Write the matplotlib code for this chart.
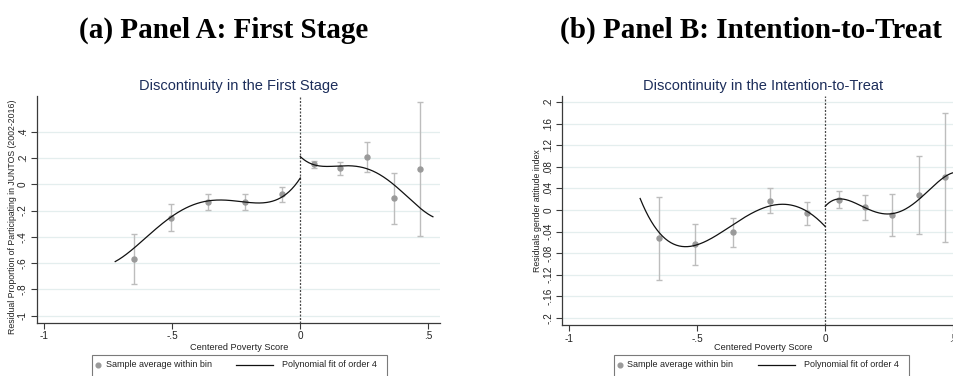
import numpy as np
import matplotlib
matplotlib.use("Agg")
import matplotlib.pyplot as plt
from matplotlib.lines import Line2D
from matplotlib.patches import Rectangle

# ---------------- data ----------------
bin_x = [-0.651, -0.507, -0.362, -0.216, -0.072, 0.052, 0.156, 0.260, 0.365, 0.467]

# Panel A: first stage (residual participation in JUNTOS)
fs_mean = [-0.570, -0.254, -0.137, -0.134, -0.076, 0.153, 0.126, 0.209, -0.107, 0.114]
fs_upper = [-0.381, -0.146, -0.076, -0.075, -0.018, 0.180, 0.172, 0.325, 0.088, 0.623]
fs_lower = [-0.759, -0.356, -0.198, -0.197, -0.137, 0.122, 0.071, 0.091, -0.303, -0.392]

fs_fit_left_x = [-0.723, -0.690, -0.651, -0.586, -0.508, -0.443, -0.400, -0.365, -0.300,
                 -0.221, -0.143, -0.091, -0.053, -0.020, 0.0]
fs_fit_left_y = [-0.584, -0.545, -0.500, -0.373, -0.247, -0.170, -0.146, -0.132, -0.125,
                 -0.132, -0.137, -0.119, -0.068, -0.005, 0.046]
fs_fit_right_x = [0.0, 0.026, 0.052, 0.104, 0.156, 0.208, 0.260, 0.3125, 0.365, 0.417, 0.469, 0.518]
fs_fit_right_y = [0.210, 0.172, 0.152, 0.139, 0.134, 0.139, 0.122, 0.071, 0.0, -0.094, -0.183, -0.246]

# Panel B: intention-to-treat (residual gender attitude index)
itt_mean = [-0.0527, -0.0632, -0.0415, 0.0173, -0.0064, 0.0182, 0.0049, -0.0087, 0.0282, 0.0606]
itt_upper = [0.0241, -0.0260, -0.0155, 0.0408, 0.0148, 0.0346, 0.0272, 0.0303, 0.1008, 0.1794]
itt_lower = [-0.1294, -0.1016, -0.0688, -0.0064, -0.0279, 0.0028, -0.0182, -0.0477, -0.0446, -0.0589]

itt_fit_left_x = [-0.723, -0.690, -0.651, -0.605, -0.547, -0.504, -0.436, -0.362, -0.280,
                  -0.215, -0.169, -0.117, -0.072, -0.032, 0.0]
itt_fit_left_y = [0.0204, -0.0119, -0.0397, -0.0595, -0.0688, -0.0644, -0.0520, -0.0292, -0.0025,
                  0.0093, 0.0110, 0.0068, -0.0044, -0.0167, -0.0292]
itt_fit_right_x = [0.0, 0.020, 0.052, 0.104, 0.156, 0.208, 0.260, 0.3125, 0.365, 0.417, 0.465, 0.518]
itt_fit_right_y = [0.0067, 0.0160, 0.0204, 0.0141, 0.0048, -0.0037, -0.0074, 0.0006, 0.0191,
                   0.0427, 0.0613, 0.0700]

x_ticks = [-1, -0.5, 0, 0.5]
x_tick_labels = ["-1", "-.5", "0", ".5"]
fs_y_ticks = [0.4, 0.2, 0, -0.2, -0.4, -0.6, -0.8, -1]
fs_y_tick_labels = [".4", ".2", "0", "-.2", "-.4", "-.6", "-.8", "-1"]
itt_y_ticks = [0.2, 0.16, 0.12, 0.08, 0.04, 0, -0.04, -0.08, -0.12, -0.16, -0.2]
itt_y_tick_labels = [".2", ".16", ".12", ".08", ".04", "0", "-.04", "-.08", "-.12", "-.16", "-.2"]

POLY_ORDER = 4

# ---------------- styling ----------------
W, H = 954, 376
SANS = ["Liberation Sans", "DejaVu Sans"]
SERIF = ["Liberation Serif", "DejaVu Serif"]
plt.rcParams["font.family"] = SANS

NAVY = "#1c2d5a"
AXIS = "#3a3a3a"
GRID = "#e4eeee"
POINT = "#9a9a9a"
BAR = "#bdbdbd"

fig = plt.figure(figsize=(W / 100, H / 100), dpi=100)


def fx(px):
    return px / W


def fy(py):
    return 1 - py / H


def poly_curve(xs, ys):
    """Order-4 polynomial fit through the sampled fit values, on a fine grid."""
    coef = np.polyfit(xs, ys, POLY_ORDER)
    grid = np.linspace(min(xs), max(xs), 200)
    return grid, np.polyval(coef, grid)


def make_panel(rect, x_lim, y_lim, y_ticks, y_labels, mean, lower, upper,
               lx, ly, rx, ry):
    ax = fig.add_axes(rect)
    ax.set_xlim(*x_lim)
    ax.set_ylim(*y_lim)
    for s in ("top", "right"):
        ax.spines[s].set_visible(False)
    for s in ("left", "bottom"):
        ax.spines[s].set_color(AXIS)
        ax.spines[s].set_linewidth(0.9)
    ax.set_xticks(x_ticks, x_tick_labels)
    ax.set_yticks(y_ticks, y_labels)
    ax.tick_params(axis="both", direction="out", length=4, width=0.8, color=AXIS,
                   labelsize=7.2, labelcolor="#222222")
    ax.tick_params(axis="y", labelrotation=90, pad=2.6)
    ax.tick_params(axis="x", pad=2)
    for lab in ax.get_yticklabels():
        lab.set_va("center")
    for t in y_ticks:
        ax.axhline(t, color=GRID, lw=0.9, zorder=0)

    ax.axvline(0, color="#4a4a4a", lw=0.9, ls=(0, (1.6, 1.2)), zorder=1)

    yerr = [[m - lo for m, lo in zip(mean, lower)], [hi - m for m, hi in zip(mean, upper)]]
    ax.errorbar(bin_x, mean, yerr=yerr, fmt="none", ecolor=BAR, elinewidth=1.0,
                capsize=2.4, capthick=1.0, zorder=2)
    ax.plot(bin_x, mean, "o", color=POINT, ms=3.6, mec=POINT, zorder=3)
    ax.plot(*poly_curve(lx, ly), color="#111111", lw=0.9, zorder=4)
    ax.plot(*poly_curve(rx, ry), color="#111111", lw=0.9, zorder=4)
    return ax


ax_a = make_panel([fx(37), fy(323), fx(403), (323 - 96) / H],
                  (-1.0285, 0.5457), (-1.055, 0.672),
                  fs_y_ticks, fs_y_tick_labels, fs_mean, fs_lower, fs_upper,
                  fs_fit_left_x, fs_fit_left_y, fs_fit_right_x, fs_fit_right_y)

ax_b = make_panel([fx(562.3), fy(325.3), fx(403), (325.3 - 96) / H],
                  (-1.027, 0.547), (-0.2141, 0.2117),
                  itt_y_ticks, itt_y_tick_labels, itt_mean, itt_lower, itt_upper,
                  itt_fit_left_x, itt_fit_left_y, itt_fit_right_x, itt_fit_right_y)

# ---------------- text ----------------
fig.text(fx(224), fy(30), "(a) Panel A: First Stage", family=SERIF, weight="bold",
         fontsize=21, ha="center", va="center", color="black")
fig.text(fx(751), fy(30), "(b) Panel B: Intention-to-Treat", family=SERIF, weight="bold",
         fontsize=21, ha="center", va="center", color="black")

fig.text(fx(239), fy(86), "Discontinuity in the First Stage", fontsize=10.5,
         color=NAVY, ha="center", va="center")
fig.text(fx(763.5), fy(86), "Discontinuity in the Intention-to-Treat", fontsize=10.5,
         color=NAVY, ha="center", va="center")

fig.text(fx(239), fy(347), "Centered Poverty Score", fontsize=6.6, color="#222222",
         ha="center", va="center")
fig.text(fx(763.5), fy(347), "Centered Poverty Score", fontsize=6.6, color="#222222",
         ha="center", va="center")

fig.text(fx(13), fy(217), "Residual Proportion of Participating in JUNTOS (2002-2016)",
         fontsize=6.3, color="#222222", rotation=90, ha="center", va="center")
fig.text(fx(537.5), fy(210.5), "Residuals gender attitude index",
         fontsize=6.3, color="#222222", rotation=90, ha="center", va="center")


# ---------------- legends ----------------
def legend_box(left):
    top = 354.5
    fig.add_artist(Rectangle((fx(left), fy(top + 40)), fx(295), 40 / H,
                             transform=fig.transFigure, fill=False,
                             edgecolor="#7a7a7a", lw=0.8))
    yc = fy(364.8)
    fig.add_artist(Line2D([fx(left + 6)], [yc], marker="o", ms=3.4, color=POINT,
                          mec=POINT, transform=fig.transFigure))
    fig.text(fx(left + 13.5), yc, "Sample average within bin", fontsize=6.5,
             color="#222222", ha="left", va="center")
    fig.add_artist(Line2D([fx(left + 144), fx(left + 181)], [yc, yc], color="#111111",
                          lw=0.9, transform=fig.transFigure))
    fig.text(fx(left + 190), yc, "Polynomial fit of order 4", fontsize=6.5,
             color="#222222", ha="left", va="center")


legend_box(92.3)
legend_box(614)

fig.savefig("out.png", dpi=100)
